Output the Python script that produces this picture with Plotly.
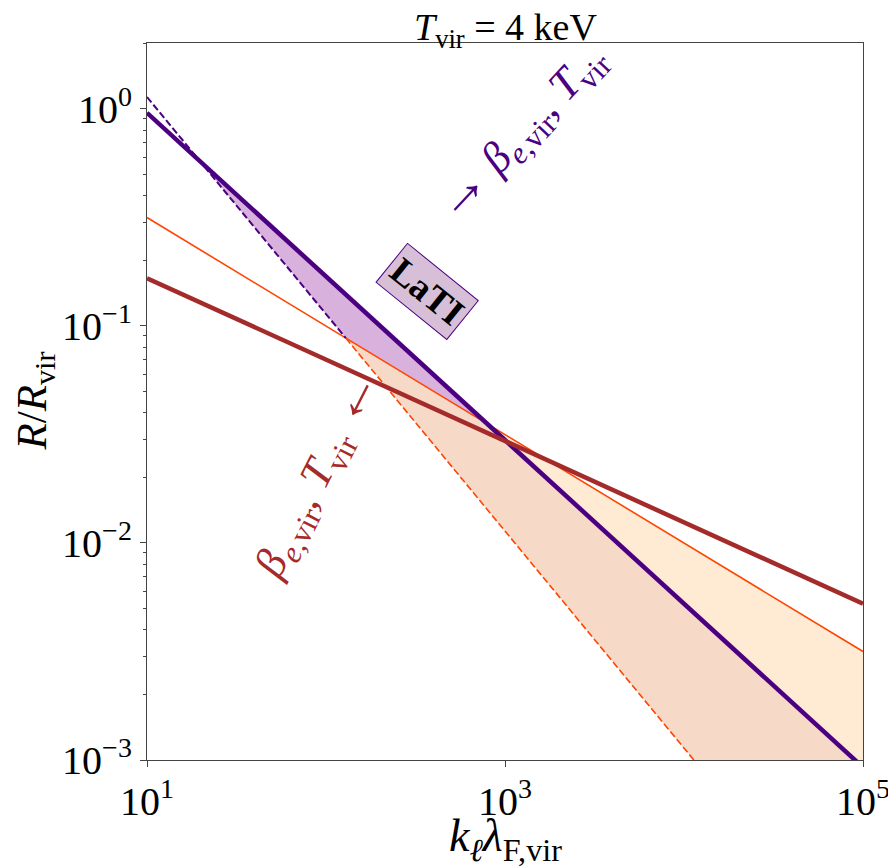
import numpy as np
import plotly.graph_objects as go

# ---- data (straight lines on log-log axes: end points) ----
purple_solid_x = [10.0, 1.0e5]
purple_solid_y = [0.96, 9.25e-4]
dashed_x = [10.0, 1.135e4]
dashed_y = [1.135, 1.0e-3]
orange_x = [10.0, 1.0e5]
orange_y = [0.316, 3.16e-3]
brown_x = [10.0, 1.0e5]
brown_y = [0.166, 5.25e-3]

x_tickvals = [1e1, 1e3, 1e5]
x_ticktext = ["10<sup>1</sup>", "10<sup>3</sup>", "10<sup>5</sup>"]
y_tickvals = [1e-3, 1e-2, 1e-1, 1e0]
y_ticktext = ["10<sup>−3</sup>", "10<sup>−2</sup>", "10<sup>−1</sup>", "10<sup>0</sup>"]
y_minor = [k * 10.0 ** n for n in (-3, -2, -1, 0) for k in range(2, 10)]

X_RANGE = [1, 5]
Y_RANGE = [-3, 0.304]

INDIGO = "#4B0082"
ORANGE = "#FF4500"
BROWN = "#A52A2A"
LAV = "#D8B2DC"
PEACH = "#F7D9C8"
LIGHT = "#FFEAD4"
AXIS = "#444444"
FONT = "Liberation Serif"


def line_of(xs, ys):
    lx = np.log10(xs)
    ly = np.log10(ys)
    m = (ly[1] - ly[0]) / (lx[1] - lx[0])
    return m, ly[0] - m * lx[0]


def intersect(l1, l2):
    m1, b1 = l1
    m2, b2 = l2
    lx = (b2 - b1) / (m1 - m2)
    return 10 ** lx, 10 ** (m1 * lx + b1)


def x_at_y(l, y):
    m, b = l
    return 10 ** ((np.log10(y) - b) / m)


Lp = line_of(purple_solid_x, purple_solid_y)
Ld = line_of(dashed_x, dashed_y)
Lo = line_of(orange_x, orange_y)

ymin = 10 ** Y_RANGE[0]
xmax = 10 ** X_RANGE[1]
A = intersect(Lp, Ld)
B = intersect(Lo, Ld)
C = intersect(Lp, Lo)
D = (x_at_y(Ld, ymin), ymin)
E = (x_at_y(Lp, ymin), ymin)
O_end = (orange_x[1], orange_y[1])

fig = go.Figure()


def poly(pts, color):
    fig.add_trace(go.Scatter(
        x=[p[0] for p in pts] + [pts[0][0]],
        y=[p[1] for p in pts] + [pts[0][1]],
        mode="lines", fill="toself", fillcolor=color,
        line=dict(width=0, color=color), hoverinfo="skip", showlegend=False))


poly([A, C, B], LAV)
poly([B, C, E, D], PEACH)
poly([C, O_end, (xmax, ymin), E], LIGHT)

# orange solid
fig.add_trace(go.Scatter(x=orange_x, y=orange_y, mode="lines",
                         line=dict(color=ORANGE, width=1.6), showlegend=False))
# dashed: purple part then orange part
fig.add_trace(go.Scatter(x=[dashed_x[0], B[0]], y=[dashed_y[0], B[1]], mode="lines",
                         line=dict(color=INDIGO, width=2, dash="7px,3px"), showlegend=False))
fig.add_trace(go.Scatter(x=[B[0], dashed_x[1]], y=[B[1], dashed_y[1]], mode="lines",
                         line=dict(color=ORANGE, width=1.6, dash="7px,3px"), showlegend=False))
# purple solid
fig.add_trace(go.Scatter(x=purple_solid_x, y=purple_solid_y, mode="lines",
                         line=dict(color=INDIGO, width=4.5), showlegend=False))
# brown
fig.add_trace(go.Scatter(x=brown_x, y=brown_y, mode="lines",
                         line=dict(color=BROWN, width=4.5), showlegend=False))

# the page body adds an 8px offset; size the figure so the plot lands where the reference has it
fig.update_layout(
    width=888, height=859,
    margin=dict(l=139, r=33, t=35, b=107, autoexpand=False),
    paper_bgcolor="white", plot_bgcolor="white",
    font=dict(family=FONT, size=40, color="black"),
    showlegend=False,
)
fig.update_xaxes(type="log", range=X_RANGE, tickvals=x_tickvals, ticktext=x_ticktext,
                 ticks="outside", ticklen=6, tickwidth=1, tickcolor=AXIS,
                 showline=True, linecolor=AXIS, linewidth=1.2, mirror=True,
                 showgrid=False, zeroline=False, tickfont=dict(size=40, family=FONT))
fig.update_yaxes(type="log", range=Y_RANGE, tickvals=y_tickvals, ticktext=y_ticktext,
                 ticks="outside", ticklen=6, tickwidth=1, tickcolor=AXIS,
                 minor=dict(tickvals=y_minor, ticks="outside", ticklen=3, tickwidth=1, tickcolor=AXIS),
                 showline=True, linecolor=AXIS, linewidth=1.2, mirror=True,
                 showgrid=False, zeroline=False, tickfont=dict(size=40, family=FONT))

# titles as annotations
fig.add_annotation(text="<i>T</i><sub>vir</sub> = 4 keV", xref="paper", yref="paper",
                   x=0.5, y=1, yshift=13, xanchor="center", yanchor="middle",
                   showarrow=False, borderpad=0, font=dict(size=38, family=FONT))
fig.add_annotation(text="<i>k</i><sub><i>ℓ</i></sub><i>λ</i><sub>F,vir</sub>", xref="paper", yref="paper",
                   x=0.5, y=0, yshift=-79, xanchor="center", yanchor="middle",
                   showarrow=False, borderpad=0, font=dict(size=46, family=FONT))
fig.add_annotation(text="<i>R</i>/<i>R</i><sub>vir</sub>", xref="paper", yref="paper",
                   x=0, y=0.5, xshift=-113, xanchor="center", yanchor="middle", textangle=-90,
                   showarrow=False, borderpad=0, font=dict(size=43, family=FONT))

# in-plot labels
fig.add_annotation(text="<b>LaTI</b>", x=2.565, y=-0.842, xref="x", yref="y",
                   showarrow=False, textangle=39, bgcolor="#D8BFD8", bordercolor=INDIGO,
                   borderwidth=1, borderpad=4, font=dict(size=37, family=FONT, color="black"))
fig.add_annotation(text="<span style='font-size:56px'>→</span> <i>β</i><sub><i>e</i>,vir</sub>, <i>T</i><sub>vir</sub>",
                   x=3.07, y=-0.10, xref="x", yref="y", showarrow=False, textangle=-47,
                   font=dict(size=44, family=FONT, color=INDIGO))
fig.add_annotation(text="<i>β</i><sub><i>e</i>,vir</sub>, <i>T</i><sub>vir</sub> <span style='font-size:56px'>←</span>",
                   x=1.94, y=-1.675, xref="x", yref="y", showarrow=False, textangle=-63,
                   font=dict(size=44, family=FONT, color=BROWN))

fig.write_html("out.html")
